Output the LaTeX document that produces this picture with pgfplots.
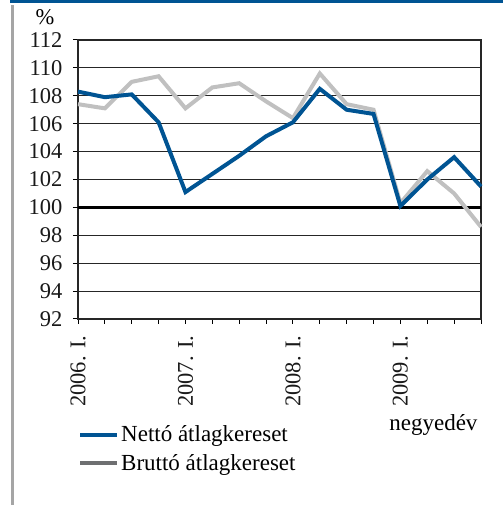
\documentclass[border=0pt]{standalone}
\usepackage{fontspec}
\setmainfont{Liberation Serif}
\usepackage{pgfplots}
\pgfplotsset{compat=1.18}
\definecolor{nblue}{RGB}{0,84,147}
\definecolor{lgray}{RGB}{192,192,192}
\definecolor{dgray}{RGB}{110,111,113}
\definecolor{bordergray}{RGB}{165,165,165}
\pgfplotsset{
  mylegimg/.style={legend image code/.code={\draw[#1] (0pt,0pt) -- (37pt,0pt);}}
}
\begin{document}
\begin{tikzpicture}[x=1pt,y=1pt]
\useasboundingbox (0,0) rectangle (503,505);
\fill[nblue] (10,502) rectangle (503,505);
\fill[bordergray] (11,0) rectangle (13.5,500);
\begin{axis}[
  at={(78pt,186pt)}, anchor=south west,
  scale only axis, width=403pt, height=279pt,
  xmin=0, xmax=15, ymin=92, ymax=112,
  xtick={0,...,15},
  xticklabels={2006. I.,,,,2007. I.,,,,2008. I.,,,,2009. I.,,,},
  ytick={92,94,...,112},
  tick align=outside, xtick pos=bottom, ytick pos=left,
  major tick length=5pt,
  tick style={black, line width=1pt},
  axis line style={black!85, line width=1.5pt},
  ymajorgrids, grid style={black!85, line width=1pt},
  extra y ticks={100}, extra y tick labels={},
  extra y tick style={grid style={black, line width=2.5pt}},
  /pgf/number format/assume math mode=true,
  tick label style={font=\fontsize{22.5}{26}\selectfont, text=black!90},
  y tick label style={xshift=-7pt},
  x tick label style={yshift=-8pt, rotate=90, anchor=east},
  legend style={draw=none, fill=none, at={(axis description cs:0,-0.375)}, anchor=north west,
    font=\fontsize{23}{27}\selectfont, inner sep=0pt, cells={anchor=west},
    row sep=7pt},
  legend cell align=left,
  clip=false,
]
\addlegendimage{mylegimg={nblue, line width=4pt}}
\addlegendentry{Nettó átlagkereset}
\addlegendimage{mylegimg={dgray, line width=4pt}}
\addlegendentry{Bruttó átlagkereset}
\addplot[forget plot, lgray, line width=4pt] coordinates {
(0,107.4) (1,107.1) (2,109.0) (3,109.4) (4,107.1) (5,108.6) (6,108.9) (7,107.6)
(8,106.4) (9,109.6) (10,107.4) (11,107.0) (12,100.3) (13,102.6) (14,101.0) (15,98.6)};
\addplot[forget plot, nblue, line width=4pt] coordinates {
(0,108.3) (1,107.9) (2,108.1) (3,106.1) (4,101.1) (5,102.4) (6,103.7) (7,105.1)
(8,106.1) (9,108.5) (10,107.0) (11,106.7) (12,100.1) (13,102.0) (14,103.6) (15,101.5)};
\node[font=\fontsize{22.5}{26}\selectfont, anchor=center] at (axis description cs:-0.082,1.082) {\%};
\node[font=\fontsize{23}{27}\selectfont, anchor=base east] at (axis description cs:1.0,-0.398) {negyedév};
\end{axis}
\end{tikzpicture}
\end{document}
